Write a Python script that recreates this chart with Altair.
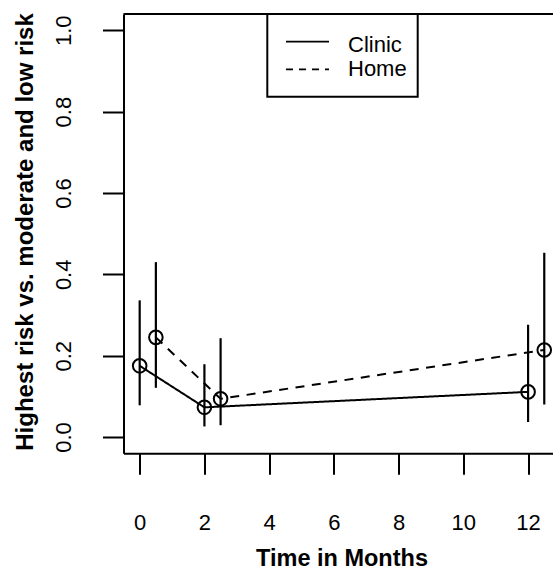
import altair as alt
import pandas as pd

# ---- data ----
groups = ["Clinic", "Home"]
months = [0, 2, 12]
clinic_est = [0.175, 0.073, 0.111]
clinic_lo = [0.078, 0.026, 0.037]
clinic_hi = [0.336, 0.179, 0.276]
home_est = [0.245, 0.094, 0.214]
home_lo = [0.121, 0.029, 0.080]
home_hi = [0.430, 0.243, 0.453]
group_shift = [0.0, 0.5]          # Home drawn half a month to the right
x_ticks = [0, 2, 4, 6, 8, 10, 12]
y_ticks = [0.0, 0.2, 0.4, 0.6, 0.8, 1.0]
x_title = "Time in Months"
y_title = "Highest risk vs. moderate and low risk"

rows = []
for g, sh, est, lo, hi in [
    (groups[0], group_shift[0], clinic_est, clinic_lo, clinic_hi),
    (groups[1], group_shift[1], home_est, home_lo, home_hi),
]:
    for m, e, l, h in zip(months, est, lo, hi):
        rows.append({"group": g, "month": m, "t": m + sh, "est": e, "lo": l, "hi": h})
df = pd.DataFrame(rows)

W, H = 429.5, 439.3
FONT = "Liberation Sans"
DASH = [9, 7.5]

xs = alt.Scale(domain=[-0.5, 12.77], nice=False, zero=False)
ys = alt.Scale(domain=[-0.04, 1.04], nice=False, zero=False)

x_axis = alt.Axis(values=x_ticks, format="d", title=x_title, grid=False,
                  tickSize=21, labelPadding=55, labelBaseline="alphabetic",
                  labelFontSize=22, labelFlush=False, labelOverlap=False,
                  titleFontSize=23.5, titleFontWeight="bold",
                  titleX=218, titleY=112.5, titleBaseline="alphabetic",
                  titleAlign="center", titleAngle=0)
y_axis = alt.Axis(values=y_ticks, format=".1f", title=y_title, grid=False,
                  tickSize=21, labelPadding=32, labelAngle=270,
                  labelAlign="center", labelBaseline="alphabetic",
                  labelFontSize=22, labelFlush=False, labelOverlap=False,
                  titleFontSize=24, titleFontWeight="bold",
                  titleX=-91, titleY=217.5, titleBaseline="alphabetic",
                  titleAlign="center", titleAngle=270)

dash = alt.StrokeDash("group:N", scale=alt.Scale(domain=groups, range=[[1, 0], DASH]), legend=None)

base = alt.Chart(df)

lines = base.mark_line(color="black", strokeWidth=2).encode(
    x=alt.X("t:Q", scale=xs, axis=x_axis),
    y=alt.Y("est:Q", scale=ys, axis=y_axis),
    strokeDash=dash,
    detail="group:N",
)
bars = base.mark_rule(color="black", strokeWidth=2.2).encode(
    x=alt.X("t:Q", scale=xs), y=alt.Y("lo:Q", scale=ys), y2="hi:Q"
)
pts = base.mark_point(shape="circle", filled=False, size=185, strokeWidth=2,
                      color="black", opacity=1).encode(
    x=alt.X("t:Q", scale=xs), y=alt.Y("est:Q", scale=ys)
)

one = pd.DataFrame({"k": [0]})
top_border = alt.Chart(one).mark_rule(color="black", strokeWidth=2).encode(
    x=alt.value(0), x2=alt.value(W), y=alt.value(0)
)

# legend (drawn like R's legend box)
leg_box = alt.Chart(one).mark_rect(fill="white", stroke="black", strokeWidth=2).encode(
    x=alt.value(143.8), x2=alt.value(294.2), y=alt.value(0), y2=alt.value(82.7)
)
leg_line1 = alt.Chart(one).mark_rule(color="black", strokeWidth=1.8).encode(
    x=alt.value(162.5), x2=alt.value(205.5), y=alt.value(27.7)
)
leg_line2 = alt.Chart(one).mark_rule(color="black", strokeWidth=1.8, strokeDash=[7, 6]).encode(
    x=alt.value(162.5), x2=alt.value(205.5), y=alt.value(55.3)
)
leg_txt1 = alt.Chart(one).mark_text(align="left", baseline="alphabetic", fontSize=22,
                                    font=FONT, color="black").encode(
    x=alt.value(224.5), y=alt.value(37.5), text=alt.value(groups[0])
)
leg_txt2 = alt.Chart(one).mark_text(align="left", baseline="alphabetic", fontSize=22,
                                    font=FONT, color="black").encode(
    x=alt.value(224.5), y=alt.value(61.5), text=alt.value(groups[1])
)

chart = alt.layer(
    lines, bars, pts, top_border, leg_box, leg_line1, leg_line2, leg_txt1, leg_txt2
).properties(
    width=W, height=H, autosize="none",
    padding={"left": 123.5, "top": 14, "right": 0, "bottom": 117.7},
).configure_view(stroke=None, clip=False).configure_axis(
    domainColor="black", domainWidth=2, tickColor="black", tickWidth=2,
    labelColor="black", titleColor="black", labelFont=FONT, titleFont=FONT,
)

chart.save("out.html", embed_options={"renderer": "svg", "actions": False})
